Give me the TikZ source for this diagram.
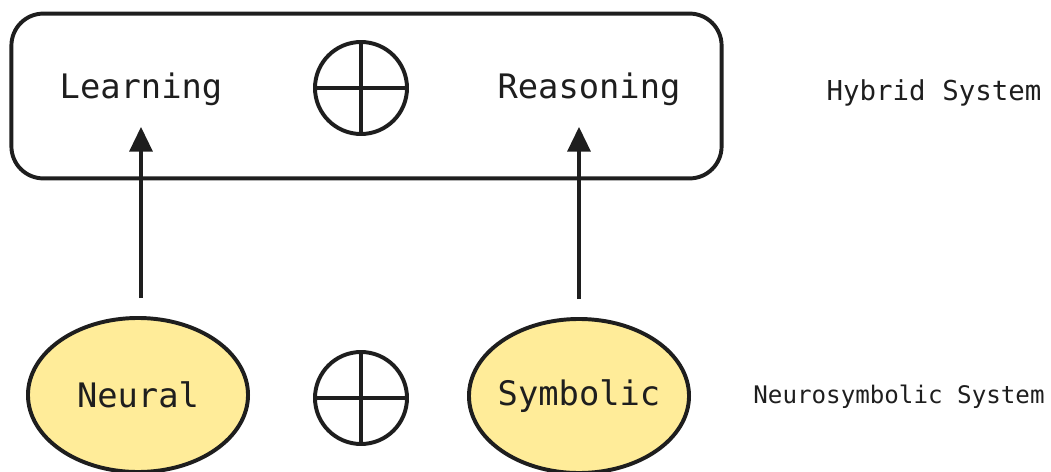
\documentclass[tikz,border=0pt]{standalone}
\usepackage{xcolor}
\usepackage{fontspec}
\setmonofont{DejaVu Sans Mono}
\usepackage{tikz}
\usetikzlibrary{shapes.geometric, positioning, arrows.meta, calc}
\definecolor{NSInk}{RGB}{30,30,30}
\definecolor{NSYellow}{RGB}{255,236,153}

\begin{document}
\begin{tikzpicture}[x=0.025cm, y=-0.025cm,
          line width=2.8pt, draw=NSInk,
          lbl/.style={font=\ttfamily\fontsize{24}{28}\selectfont, text=NSInk, inner sep=1pt},
          side/.style={font=\ttfamily\fontsize{#1}{#1}\selectfont, text=NSInk, inner sep=1pt},
          blob/.style={ellipse, draw=NSInk, fill=NSYellow, line width=2.8pt,
                       minimum width=5.5cm, minimum height=3.85cm, inner sep=0pt},
          oplus/.style={circle, draw=NSInk, line width=2.8pt, minimum size=2.3cm, inner sep=0pt},
          arr/.style={-{Triangle[length=0.62cm, width=0.57cm]}, line width=2.8pt, draw=NSInk,
                      shorten <=0.45cm, shorten >=0.45cm}
        ]
        \useasboundingbox (0,0) rectangle (1051,472);

        % Hybrid system frame
        \node[draw=NSInk, line width=2.8pt, rounded corners=0.8cm,
              minimum width=17.75cm, minimum height=4.12cm] (hyb) at (366.5,96) {};
        \node[lbl] (lrn) at (141,89) {Learning};
        \node[lbl] (rsn) at (589,89) {Reasoning};
        \node[oplus] (opt) at (361,88) {};
        \node[side=19.5] (hsys) at (934,93) {Hybrid System};

        % Neurosymbolic system
        \node[blob, label={[lbl]center:Neural}] (neu) at (138,395) {};
        \node[blob, label={[lbl]center:Symbolic}] (sym) at (579,396) {};
        \node[oplus] (opb) at (361,398) {};
        \node[side=17.2] (nsys) at (899,397) {Neurosymbolic System};

        \foreach \o in {opt, opb} {
          \draw (\o.north) -- (\o.south);
          \draw (\o.west) -- (\o.east);
        }

        \draw[arr] (neu.north -| lrn.south) -- (lrn.south);
        \draw[arr] (sym.north) -- (sym.north |- rsn.south);
\end{tikzpicture}
\end{document}
